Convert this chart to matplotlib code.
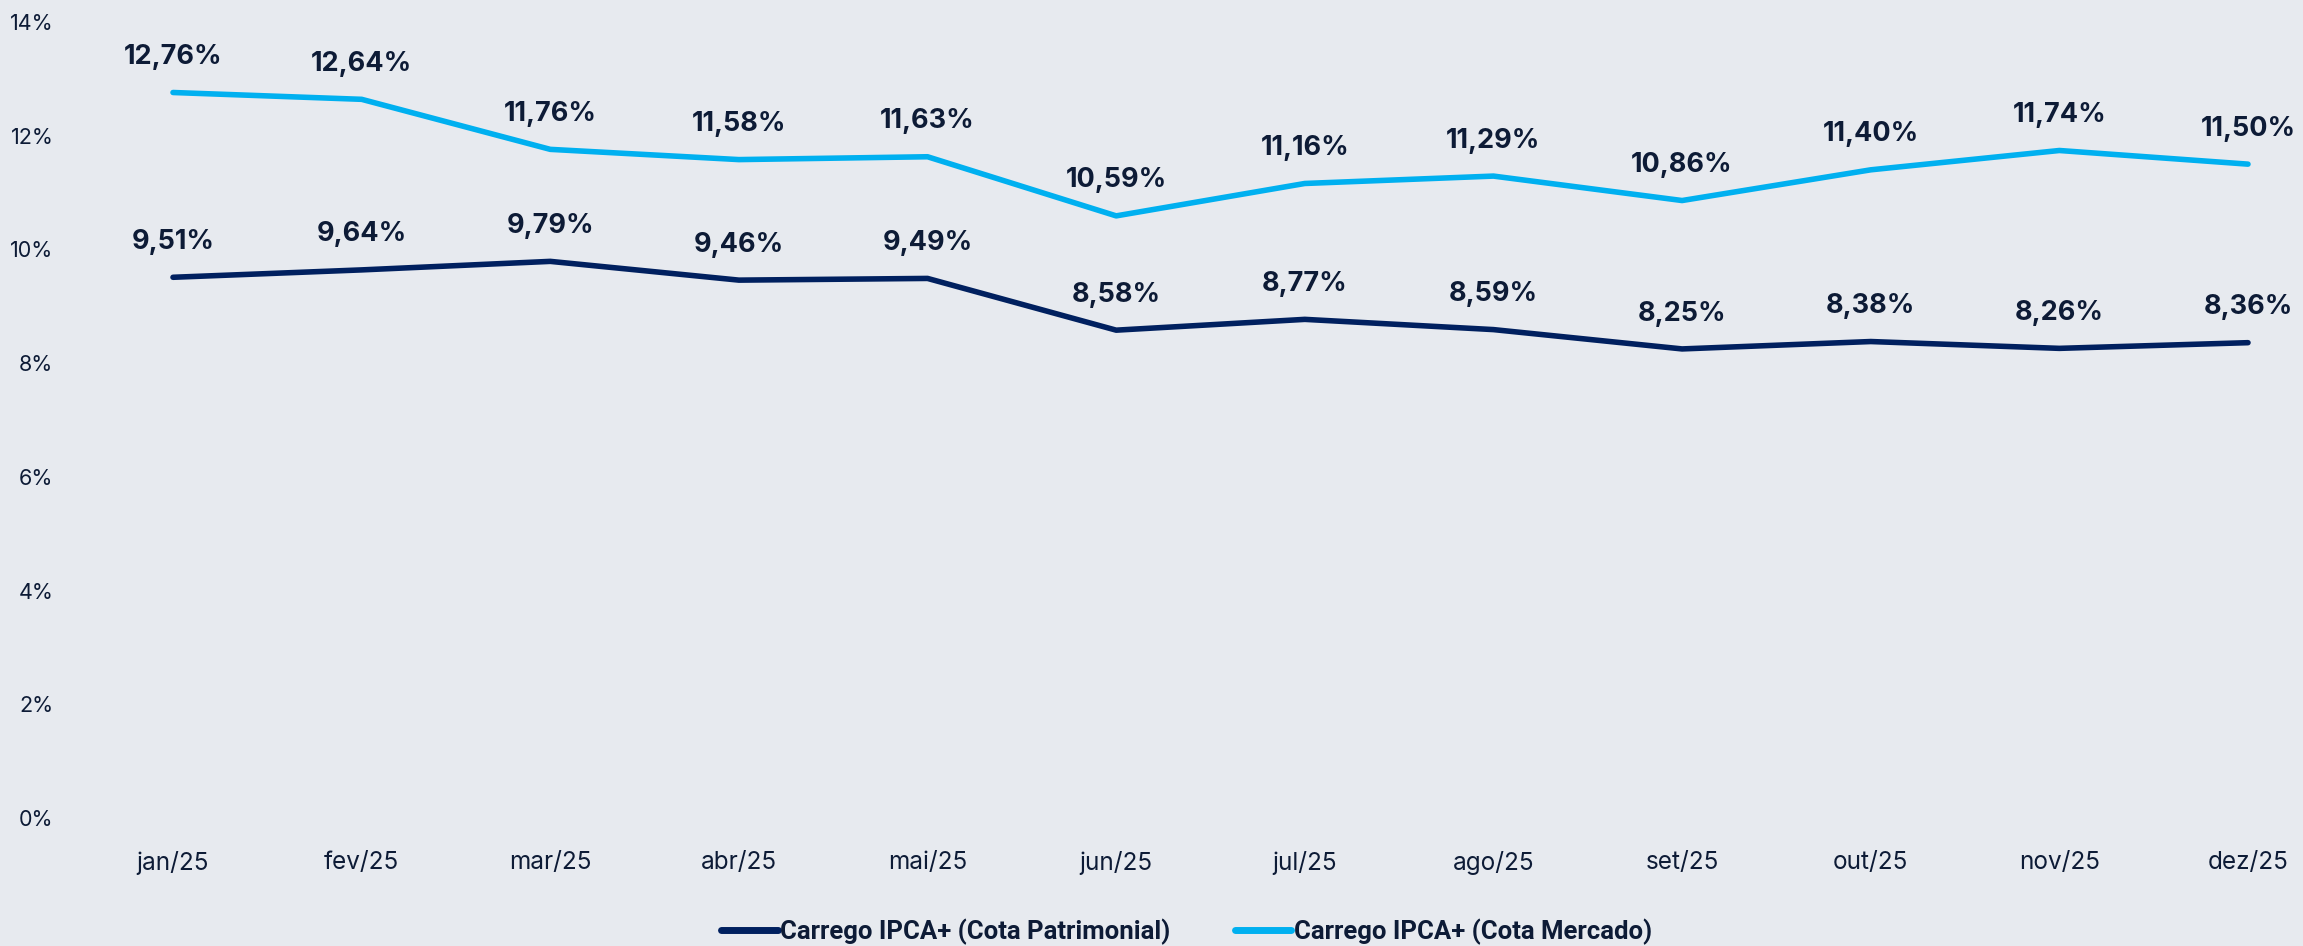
import matplotlib
matplotlib.use("Agg")
import matplotlib.pyplot as plt
from matplotlib.ticker import FuncFormatter

months = ["jan/25", "fev/25", "mar/25", "abr/25", "mai/25", "jun/25",
          "jul/25", "ago/25", "set/25", "out/25", "nov/25", "dez/25"]
patrimonial = [9.51, 9.64, 9.79, 9.46, 9.49, 8.58, 8.77, 8.59, 8.25, 8.38, 8.26, 8.36]
mercado = [12.76, 12.64, 11.76, 11.58, 11.63, 10.59, 11.16, 11.29, 10.86, 11.40, 11.74, 11.50]
series_names = ["Carrego IPCA+ (Cota Patrimonial)", "Carrego IPCA+ (Cota Mercado)"]
yticks = [0, 2, 4, 6, 8, 10, 12, 14]

BG = "#e7eaef"
TXT = "#0d1b36"
NAVY = "#00205f"
LIGHT = "#00b0f0"

W, H = 2303, 946
fig = plt.figure(figsize=(W / 100, H / 100), dpi=100, facecolor=BG)
left_px, right_px = 70, 2303
bottom_px, top_px = 818, 22
ax = fig.add_axes([left_px / W, (H - bottom_px) / H, (right_px - left_px) / W, (bottom_px - top_px) / H])
ax.set_facecolor(BG)

x = list(range(len(months)))
step = (2248 - 173) / 11
xmin = -(173 - left_px) / step
xmax = 11 + (right_px - 2248) / step

for vals, col, name in [(patrimonial, NAVY, series_names[0]), (mercado, LIGHT, series_names[1])]:
    ax.plot(x, vals, color=col, lw=4.0, solid_capstyle="round", solid_joinstyle="round", label=name)
    for xi, v in zip(x, vals):
        ax.annotate(f"{v:.2f}%".replace(".", ","), (xi, v), xytext=(0, 25.5), textcoords="offset points",
                    ha="center", va="center", fontsize=19.5, fontweight="bold", color=TXT,
                    family=["Inter", "DejaVu Sans"])

ax.set_xlim(xmin, xmax)
ax.set_ylim(0, 14)
ax.set_yticks(yticks)
ax.yaxis.set_major_formatter(FuncFormatter(lambda v, p: f"{v:.0f}%"))
ax.set_xticks(x)
ax.set_xticklabels(months)
for lab in ax.get_yticklabels():
    lab.set_fontsize(15.5)
    lab.set_color(TXT)
    lab.set_family(["Inter", "DejaVu Sans"])
for lab in ax.get_xticklabels():
    lab.set_fontsize(17.5)
    lab.set_color(TXT)
    lab.set_family(["Inter", "DejaVu Sans"])
ax.tick_params(axis="both", length=0)
ax.tick_params(axis="x", pad=24)
ax.tick_params(axis="y", pad=12)
for s in ax.spines.values():
    s.set_visible(False)

leg = ax.legend(loc="center", bbox_to_anchor=(0.5, (H - 932 - (H - bottom_px)) / (bottom_px - top_px)),
                ncol=2, frameon=False, handlelength=2.2, handletextpad=0.1, columnspacing=2.5,
                prop={"family": ["Roboto", "DejaVu Sans"], "weight": "bold", "size": 18.5})
for t in leg.get_texts():
    t.set_color(TXT)
for h in leg.get_lines():
    h.set_linewidth(5)

fig.savefig("out.png", dpi=100, facecolor=BG)
